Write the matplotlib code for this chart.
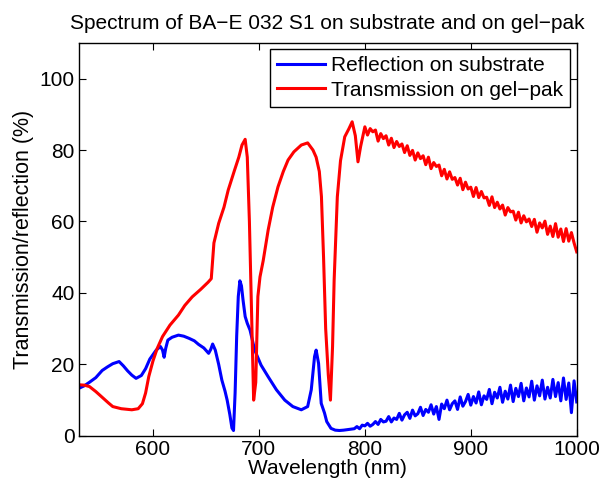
import numpy as np
import matplotlib
matplotlib.use('Agg')
import matplotlib.pyplot as plt

plt.rcParams['font.family'] = ['Liberation Sans', 'DejaVu Sans']

# reflection on substrate (blue)
refl_x = [530, 535, 540, 546, 552, 557, 562, 568, 572, 576, 580, 584, 589, 593, 597, 603,
          607, 609, 610.5, 612, 614, 618, 624, 629, 634, 639, 643, 648, 652.5, 654.5, 656.3,
          658.8, 662, 665, 668, 670, 672.5, 674.5, 676, 677.5, 679, 680.5, 682, 683.5, 685,
          687, 689, 691.6, 696, 702, 708.6, 716.5, 724.4, 732, 740, 746, 749.4, 752.5, 754,
          756.3, 758.8, 761.9, 764, 768, 772, 776, 780, 785,
          790, 792.5, 795, 797.5, 800, 802.5, 805, 807.5, 810, 812.5, 815, 817.5, 820,
          822.5, 825, 827.5, 830, 832.5, 835, 837.5, 840, 842.5, 845, 847.5, 850,
          852.5, 855, 857.5, 860, 862.5, 865, 867.5, 870, 872.5, 875, 877.5, 880,
          882.5, 885, 887.5, 890, 892.5, 895, 897.5, 900, 902.5, 905, 907.5, 910,
          912.5, 915, 917.5, 920, 922.5, 925, 927.5, 930, 932.5, 935, 937.5, 940,
          942.5, 945, 947.5, 950, 952.5, 955, 957.5, 960, 962.5, 965, 967.5, 970,
          972.5, 975, 977.5, 980, 982.5, 985, 987.5, 990, 992.5, 995, 997.5, 1000]
refl_y = [13.3, 14.0, 15.0, 16.3, 18.3, 19.3, 20.2, 20.8, 19.6, 18.2, 17.0, 16.1, 16.9, 18.8, 21.5, 24.0,
          25.0, 24.0, 22.0, 24.5, 26.8, 27.6, 28.2, 27.9, 27.3, 26.6, 25.6, 24.6, 23.1, 24.2, 25.7,
          24.0, 20.0, 15.6, 12.5, 10.0, 6.0, 2.2, 1.5, 12.0, 28.0, 39.0, 43.4, 42.0, 38.0,
          33.4, 31.5, 29.6, 24.0, 19.8, 16.6, 12.9, 10.0, 8.2, 7.3, 8.2, 12.9, 22.2, 24.0,
          20.3, 9.1, 6.4, 4.0, 2.1, 1.6, 1.5, 1.6, 1.8,
          2.0, 2.6, 2.0, 3.0, 2.8, 3.5, 2.7, 3.2, 4.0, 3.2, 4.6, 3.9, 4.1,
          5.4, 3.9, 5.0, 4.6, 6.3, 4.4, 5.9, 6.6, 4.9, 7.2, 5.6, 6.2,
          8.0, 5.7, 7.4, 6.6, 8.7, 6.1, 8.2, 4.6, 8.9, 7.6, 10.0, 7.3,
          9.0, 9.8, 7.4, 10.9, 8.3, 9.6, 11.6, 8.6, 11.0, 9.2, 12.3, 8.7,
          11.2, 10.2, 13.0, 9.0, 12.2, 10.6, 13.6, 9.4, 12.5, 10.3, 14.2, 9.6,
          13.3, 11.0, 14.7, 9.8, 13.4, 10.9, 15.3, 10.0, 14.0, 11.2, 15.6, 10.3,
          13.6, 10.6, 15.8, 11.0, 14.9, 9.8, 16.2, 10.2, 14.8, 6.5, 15.4, 9.5]

# transmission on gel-pak (red)
trans_x = [530, 535, 540, 546, 552, 558, 562, 570, 580, 586, 590, 593, 596, 600, 604, 609,
           616, 624, 630, 637, 645, 652, 655, 656, 657.5, 662, 667, 671, 677, 681, 684, 687,
           689, 691, 693, 695, 697, 699, 701, 704, 708.7, 713, 718, 723, 727.5, 733, 740, 746,
           751, 754, 757, 759, 761, 763, 765.5, 767.5, 769.5, 771, 774, 777, 781, 785, 788,
           791, 793.5, 796,
           800, 802.5, 805, 807.5, 810, 812.5, 815, 817.5, 820,
           822.5, 825, 827.5, 830, 832.5, 835, 837.5, 840, 842.5, 845, 847.5, 850,
           852.5, 855, 857.5, 860, 862.5, 865, 867.5, 870, 872.5, 875, 877.5, 880,
           882.5, 885, 887.5, 890, 892.5, 895, 897.5, 900, 902.5, 905, 907.5, 910,
           912.5, 915, 917.5, 920, 922.5, 925, 927.5, 930, 932.5, 935, 937.5, 940,
           942.5, 945, 947.5, 950, 952.5, 955, 957.5, 960, 962.5, 965, 967.5, 970,
           972.5, 975, 977.5, 980, 982.5, 985, 987.5, 990, 992.5, 995, 997.5, 1000]
trans_y = [14.3, 14.2, 13.8, 12.4, 10.8, 9.2, 8.2, 7.6, 7.3, 7.6, 9.0, 12.0, 16.6, 21.0, 24.5, 27.8,
           31.0, 33.8, 36.5, 38.9, 41.0, 43.0, 44.0, 48.0, 54.0, 59.5, 64.0, 68.8, 74.4, 78.0, 81.4, 83.0,
           78.0, 60.0, 35.0, 10.0, 15.0, 39.0, 44.5, 49.0, 57.6, 64.0, 69.7, 74.0, 77.2, 79.5, 81.4, 82.0,
           80.0, 78.0, 74.0, 67.0, 50.0, 30.0, 17.0, 10.0, 25.0, 43.6, 66.9, 77.0, 83.7, 86.0, 87.9,
           84.0, 76.7, 81.0,
           86.5, 84.2, 86.0, 85.1, 85.6, 82.5, 84.6, 83.2, 84.0,
           81.4, 83.3, 80.7, 82.4, 81.0, 81.7, 79.3, 81.2, 78.5, 79.9, 77.2, 79.2,
           77.6, 78.4, 75.9, 78.0, 74.8, 76.5, 75.4, 75.8, 72.8, 74.6, 71.9, 73.9,
           71.8, 72.3, 70.2, 72.1, 68.9, 71.0, 69.1, 69.6, 67.0, 69.5, 66.7, 68.4,
           66.6, 66.8, 64.5, 66.9, 63.9, 65.4, 63.5, 64.6, 61.8, 63.9, 62.7, 62.9,
           60.4, 62.6, 59.6, 61.6, 59.9, 60.7, 58.6, 60.6, 57.0, 59.6, 58.2, 60.1,
           56.4, 58.7, 55.8, 59.4, 55.6, 57.9, 54.4, 58.0, 54.5, 56.9, 54.0, 51.5]

fig = plt.figure(figsize=(6.02, 4.87), dpi=100)
ax = fig.add_axes([0.131, 0.105, 0.827, 0.807])

ax.plot(refl_x, refl_y, color='#0000ff', lw=2.2, label='Reflection on substrate')
ax.plot(trans_x, trans_y, color='#ff0000', lw=2.2, label='Transmission on gel\u2212pak')

ax.set_xlim(530, 1000)
ax.set_ylim(0, 110)
ax.set_xticks([600, 700, 800, 900, 1000])
ax.set_yticks([0, 20, 40, 60, 80, 100])
ax.tick_params(direction='in', top=True, right=True, labelsize=15, length=5, pad=3)
for s in ax.spines.values():
    s.set_linewidth(1)

ax.set_xlabel('Wavelength (nm)', fontsize=15, labelpad=0)
ax.set_ylabel('Transmission/reflection (%)', fontsize=15.5, labelpad=4)
ax.set_title('Spectrum of BA\u2212E 032 S1 on substrate and on gel\u2212pak', fontsize=15, pad=10)

leg = ax.legend(loc='upper right', fontsize=15, fancybox=False, framealpha=1,
                edgecolor='black', borderpad=0.35, labelspacing=0.25, handlelength=2.3,
                handletextpad=0.3, borderaxespad=0.3)
leg.get_frame().set_linewidth(1)

fig.savefig('out.png', dpi=100)
